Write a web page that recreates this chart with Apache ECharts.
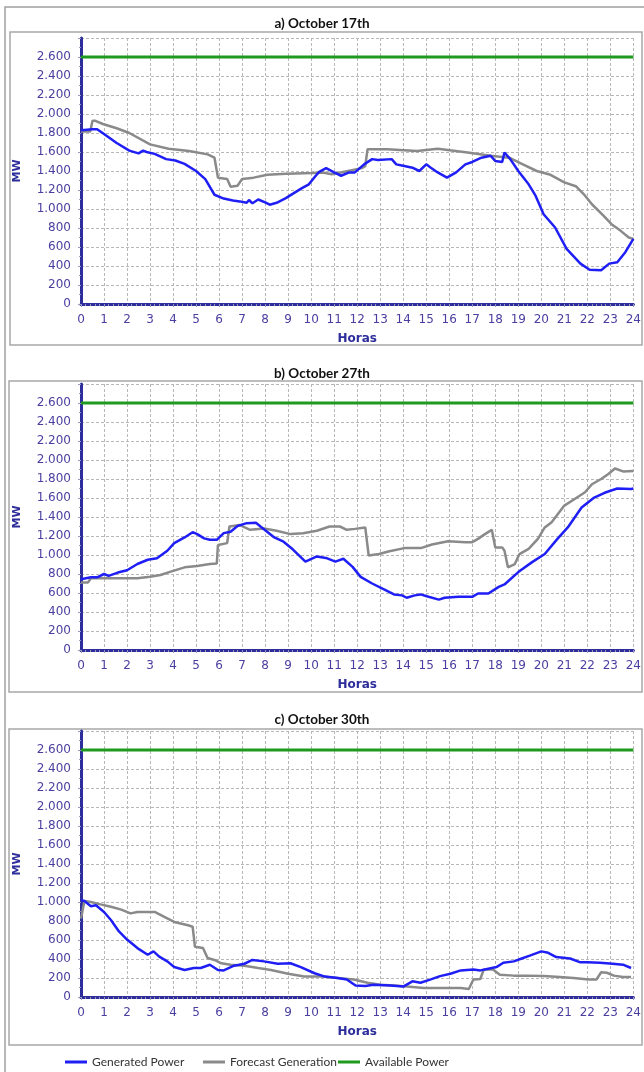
<!DOCTYPE html>
<html>
<head>
<meta charset="utf-8">
<style>
 body{ margin:0; background:#fff; }
 #chart{ width:644px; height:1072px; }
</style>
</head>
<body>
<div id="chart"></div>
<script src="https://cdn.jsdelivr.net/npm/echarts@6/dist/echarts.min.js"></script>
<script type="text/javascript">
	// hour axis ticks
	var hourTicks = [0, 24, 1];
	var mwTicks = [0, 2800, 200];
	var titles = ['a) October 17th', 'b) October 27th', 'c) October 30th'];
	var names = ['Generated Power', 'Forecast Generation', 'Available Power'];

	// available power (flat)
	var available = [[0, 2600], [24, 2600]];

	// a) October 17th  [hora, MW]
	var genA = [[0,1830],[0.5,1840],[0.7,1840],[1,1790],[1.55,1695],[2.1,1615],[2.5,1585],[2.7,1615],[2.85,1600],[3.2,1580],[3.7,1525],[4.1,1510],[4.5,1475],[5.0,1400],[5.4,1315],[5.8,1150],[6.2,1110],[6.6,1090],[6.9,1080],[7.2,1065],[7.3,1095],[7.45,1060],[7.7,1100],[8.0,1070],[8.2,1045],[8.5,1065],[8.9,1115],[9.3,1175],[9.6,1220],[9.9,1260],[10.2,1350],[10.35,1390],[10.65,1430],[11.0,1385],[11.3,1350],[11.65,1385],[11.9,1385],[12.3,1470],[12.65,1525],[12.9,1515],[13.5,1525],[13.7,1470],[14.0,1455],[14.4,1435],[14.7,1400],[15.0,1470],[15.2,1435],[15.5,1385],[15.9,1330],[16.3,1385],[16.7,1470],[17.0,1495],[17.4,1540],[17.8,1560],[18.0,1505],[18.3,1495],[18.4,1595],[18.65,1525],[19.0,1400],[19.45,1260],[19.75,1140],[20.1,945],[20.6,805],[21.1,580],[21.7,425],[22.1,360],[22.6,355],[22.95,425],[23.3,440],[23.65,545],[24,685]];
	var fcA = [[0,1815],[0.4,1815],[0.5,1930],[0.6,1930],[0.95,1895],[1.55,1850],[2.1,1800],[3.0,1680],[3.8,1635],[4.7,1610],[5.5,1575],[5.8,1540],[5.95,1330],[6.35,1315],[6.5,1235],[6.8,1245],[7.0,1315],[7.5,1330],[8.1,1360],[8.9,1370],[10.1,1380],[10.5,1385],[10.9,1365],[11.6,1400],[12.2,1430],[12.35,1450],[12.45,1630],[13.3,1630],[14.6,1610],[15.5,1635],[16.8,1595],[17.8,1560],[18.6,1540],[19.2,1470],[19.8,1400],[20.4,1360],[21.0,1280],[21.5,1240],[21.85,1155],[22.2,1050],[22.7,930],[23.05,840],[23.45,770],[23.8,700],[24,685]];

	// b) October 27th
	var genB = [[0,745],[0.43,765],[0.7,765],[1,800],[1.2,780],[1.6,815],[2,840],[2.45,905],[2.9,950],[3.3,965],[3.75,1045],[4.05,1125],[4.5,1185],[4.85,1240],[5.05,1220],[5.35,1175],[5.6,1160],[5.9,1160],[6.2,1230],[6.5,1245],[6.8,1305],[7.2,1335],[7.6,1340],[7.8,1300],[8.4,1185],[8.8,1140],[9.2,1060],[9.75,930],[10.25,985],[10.7,965],[11.05,930],[11.4,960],[11.8,875],[12.15,770],[12.65,700],[13.1,645],[13.6,585],[13.95,575],[14.15,550],[14.5,575],[14.75,585],[15.1,560],[15.55,530],[15.8,550],[16.4,560],[17.0,560],[17.25,595],[17.7,595],[18.15,665],[18.4,690],[19.0,820],[19.6,925],[20.15,1010],[20.7,1170],[21.15,1290],[21.75,1500],[22.3,1605],[22.75,1655],[23.3,1700],[23.9,1695],[24,1700]];
	var fcB = [[0,710],[0.3,710],[0.43,755],[1,755],[2.45,755],[3,770],[3.45,790],[3.9,825],[4.5,870],[5.05,885],[5.6,905],[5.9,910],[5.95,1105],[6.35,1125],[6.45,1300],[6.9,1315],[7.35,1265],[7.95,1280],[8.5,1255],[9.1,1220],[9.65,1230],[10.25,1255],[10.8,1300],[11.25,1300],[11.55,1265],[11.9,1275],[12.35,1290],[12.5,995],[12.95,1010],[13.4,1040],[14.1,1075],[14.8,1075],[15.25,1110],[15.95,1145],[16.7,1135],[17.0,1135],[17.25,1170],[17.55,1220],[17.85,1265],[18.0,1080],[18.3,1080],[18.4,1045],[18.55,870],[18.85,905],[19.05,1010],[19.45,1065],[19.85,1170],[20.15,1290],[20.45,1345],[21.0,1520],[21.45,1590],[21.9,1660],[22.2,1745],[22.6,1800],[22.9,1850],[23.2,1910],[23.55,1880],[24,1885]];

	// c) October 30th
	var genC = [[0,1020],[0.15,1010],[0.43,955],[0.65,965],[1.0,895],[1.3,810],[1.65,690],[2.0,605],[2.45,515],[2.9,445],[3.15,480],[3.4,425],[3.75,375],[4.05,315],[4.5,285],[4.9,305],[5.2,305],[5.6,340],[5.95,285],[6.2,280],[6.65,330],[7.1,350],[7.45,390],[7.95,375],[8.55,350],[9.1,355],[9.55,315],[10.15,250],[10.6,215],[11.15,200],[11.55,185],[11.93,120],[12.35,115],[12.7,130],[13.45,120],[14.0,110],[14.4,165],[14.75,150],[15.2,185],[15.6,220],[16.05,245],[16.5,280],[17.05,290],[17.35,280],[17.65,295],[18.05,315],[18.35,360],[18.8,375],[19.15,405],[19.5,435],[20.0,480],[20.3,465],[20.65,420],[21.25,405],[21.7,365],[22.0,365],[22.55,360],[23.1,350],[23.55,340],[23.9,305]];
	var fcC = [[0,825],[0.15,1010],[0.43,1000],[0.85,975],[1.3,950],[1.75,920],[2.15,880],[2.45,895],[3.2,895],[3.6,845],[4.05,790],[4.65,755],[4.85,740],[4.95,530],[5.3,515],[5.5,410],[5.8,390],[6.1,355],[6.5,340],[7.1,330],[7.7,305],[8.25,285],[9.0,245],[9.7,215],[10.45,215],[11.15,200],[11.85,185],[12.45,150],[13.0,130],[13.6,120],[14.15,110],[14.9,95],[15.6,95],[16.5,95],[16.85,85],[17.05,185],[17.35,190],[17.5,290],[17.9,290],[18.2,235],[18.8,225],[19.35,225],[20.1,220],[20.8,210],[21.4,200],[22.05,185],[22.4,185],[22.6,260],[22.85,255],[23.15,225],[23.55,210],[23.9,210]];

	var gens = [genA, genB, genC];
	var fcs = [fcA, fcB, fcC];

	var navy = '#2d2d9c';
	var lbl = '#4a3fa0';
	var gridTops = [38, 384, 731];
	var titleTops = [12, 362, 708];

	var grids = [], xAxes = [], yAxes = [], series = [], tit = [];
	for (var i = 0; i < 3; i++) {
		grids.push({left: 81, top: gridTops[i], width: 554, height: 266});
		tit.push({text: titles[i], left: 'center', top: titleTops[i],
			textStyle: {fontFamily: 'Lato', fontSize: 13.5, fontWeight: 'bold', color: '#111'}});
		xAxes.push({
			type: 'value', gridIndex: i, min: hourTicks[0], max: hourTicks[1], interval: hourTicks[2],
			name: 'Horas', nameLocation: 'middle', nameGap: 29,
			nameTextStyle: {fontFamily: 'DejaVu Sans', fontSize: 12, fontWeight: 'bold', color: navy},
			axisLine: {show: true, lineStyle: {color: navy, width: 3}},
			axisTick: {show: true, length: 3, lineStyle: {color: '#9999bb'}},
			minorTick: {show: true, splitNumber: 5, length: 2, lineStyle: {color: '#9999bb'}},
			axisLabel: {fontFamily: 'DejaVu Sans', fontSize: 12, color: lbl, margin: 10},
			splitLine: {show: true, lineStyle: {color: '#b8b8b8', type: [3, 2]}}
		});
		yAxes.push({
			type: 'value', gridIndex: i, min: mwTicks[0], max: mwTicks[1], interval: mwTicks[2],
			name: 'MW', nameLocation: 'middle', nameGap: 58,
			nameTextStyle: {fontFamily: 'DejaVu Sans', fontSize: 11, fontWeight: 'bold', color: navy},
			axisLine: {show: true, lineStyle: {color: navy, width: 3}},
			axisTick: {show: true, length: 3, lineStyle: {color: '#9999bb'}},
			minorTick: {show: true, splitNumber: 2, length: 2, lineStyle: {color: '#9999bb'}},
			axisLabel: {fontFamily: 'DejaVu Sans', fontSize: 12, color: lbl, margin: 10,
				formatter: function (v) {
					if (v >= 2800) return '';
					return v >= 1000 ? Math.floor(v / 1000) + '.' + String(v % 1000).padStart(3, '0') : String(v);
				}},
			splitLine: {show: true, lineStyle: {color: '#b8b8b8', type: [3, 2]}}
		});
		series.push({name: names[1], type: 'line', xAxisIndex: i, yAxisIndex: i, data: fcs[i],
			showSymbol: false, lineStyle: {color: '#8a8a8a', width: 2.5}, itemStyle: {color: '#8a8a8a'}});
		series.push({name: names[0], type: 'line', xAxisIndex: i, yAxisIndex: i, data: gens[i],
			showSymbol: false, lineStyle: {color: '#1f1ff5', width: 2.5}, itemStyle: {color: '#1f1ff5'}});
		series.push({name: names[2], type: 'line', xAxisIndex: i, yAxisIndex: i, data: available,
			showSymbol: false, lineStyle: {color: '#1f9a1f', width: 3}, itemStyle: {color: '#1f9a1f'}});
	}

	var legTxt = {fontFamily: 'Lato', fontSize: 12, color: '#333'};
	var legLeft = [60, 198, 333];
	var legends = [];
	for (var k = 0; k < 3; k++) {
		legends.push({data: [names[k]], left: legLeft[k], top: 1051, icon: 'rect',
			itemWidth: 22, itemHeight: 3, itemGap: 6, textStyle: legTxt});
	}

	var box = {fill: 'none', stroke: '#a8a8a8', lineWidth: 1.5};
	var options = {
		animation: false,
		backgroundColor: '#fff',
		title: tit,
		legend: legends,
		grid: grids,
		xAxis: xAxes,
		yAxis: yAxes,
		series: series,
		graphic: [
			{type: 'polyline', shape: {points: [[5, 1072], [5, 7], [644, 7]]}, style: {fill: 'none', stroke: '#a0a0a0', lineWidth: 1.5}},
			{type: 'rect', shape: {x: 10, y: 32, width: 632, height: 313}, style: box},
			{type: 'rect', shape: {x: 9, y: 381, width: 633, height: 311}, style: box},
			{type: 'rect', shape: {x: 9, y: 729, width: 633, height: 316}, style: box}
		]
	};

	var myChart = echarts.init(document.getElementById('chart'));
	myChart.setOption(options);
</script>
</body>
</html>
